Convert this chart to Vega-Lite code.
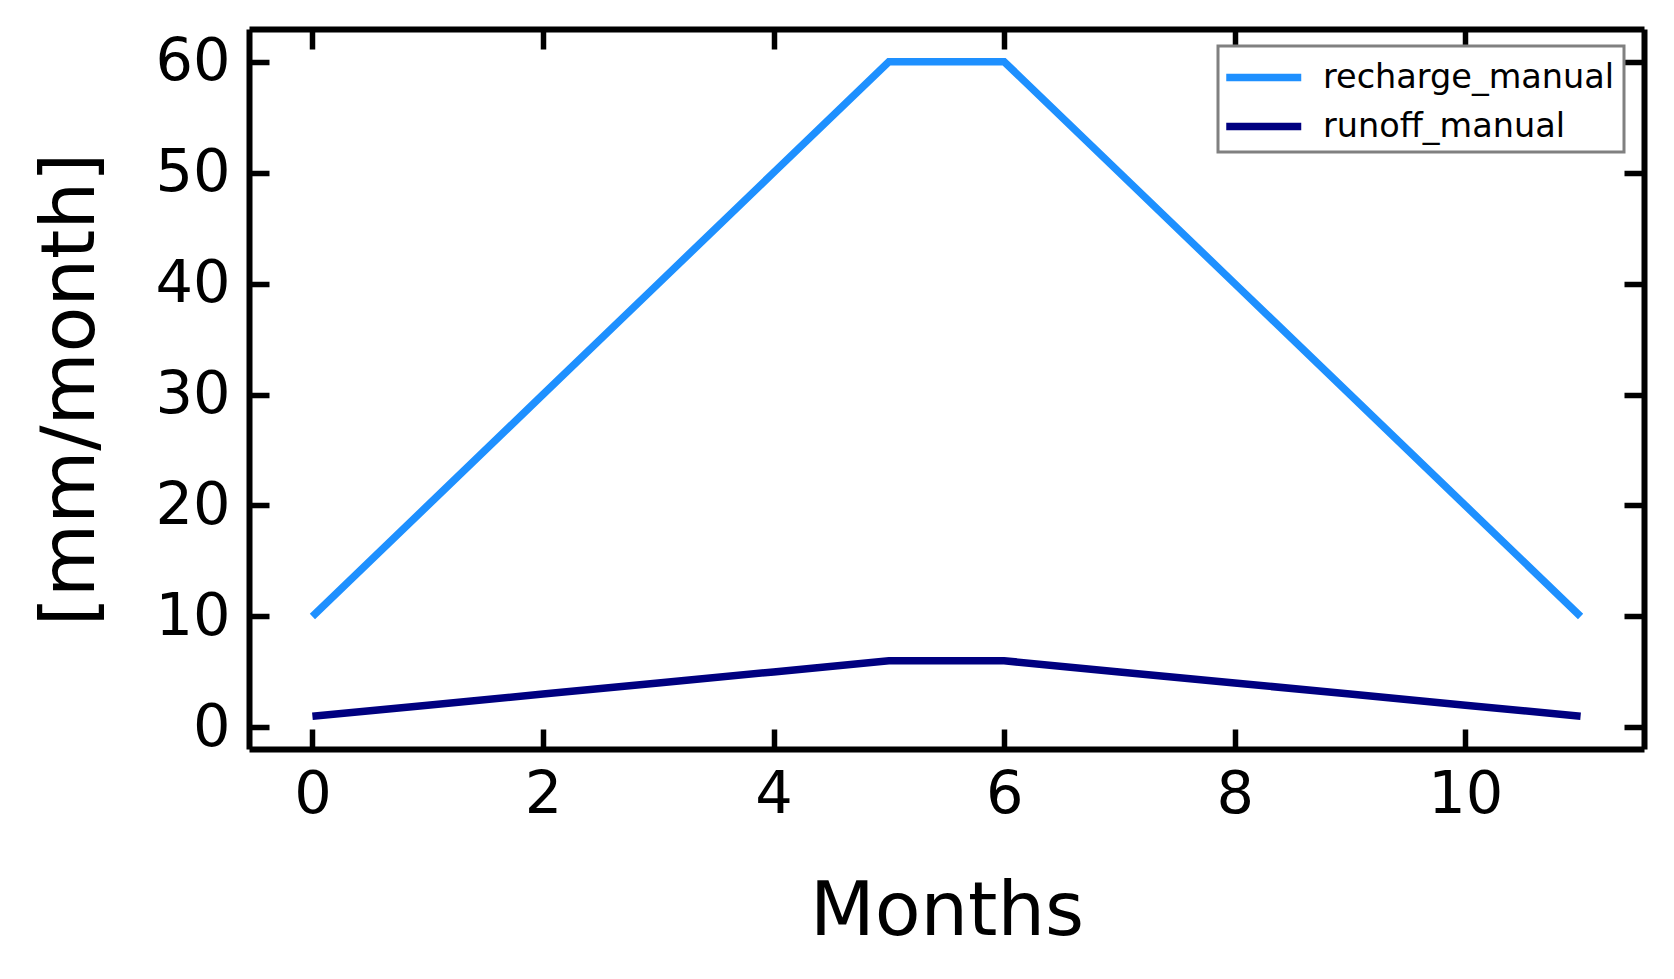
{
  "$schema": "https://vega.github.io/schema/vega-lite/v6.json",
  "width": 1395,
  "height": 720,
  "autosize": {"type": "none"},
  "padding": {"left": 249, "top": 29, "right": 30, "bottom": 230},
  "background": "white",
  "config": {
    "view": {"stroke": null},
    "font": "DejaVu Sans",
    "axis": {
      "domainColor": "black",
      "domainWidth": 6,
      "tickColor": "black",
      "tickWidth": 5.5,
      "tickSize": -20,
      "grid": false,
      "labelFont": "DejaVu Sans",
      "labelFontSize": 59,
      "labelColor": "black",
      "titleFont": "DejaVu Sans",
      "titleFontSize": 75,
      "titleFontWeight": "normal",
      "titleColor": "black"
    },
    "legend": {
      "orient": "none",
      "legendX": 969,
      "legendY": 17,
      "fillColor": "white",
      "strokeColor": "#808080",
      "strokeWidth": 3,
      "padding": 9,
      "labelFont": "DejaVu Sans",
      "labelFontSize": 33.5,
      "labelColor": "black",
      "labelLimit": 0,
      "symbolType": "M-1.24,0H2.76",
      "symbolSize": 1406,
      "symbolStrokeWidth": 7.5,
      "labelOffset": 51,
      "rowPadding": 10
    }
  },
  "data": {
    "values": [
      {"month": 0, "value": 10, "series": "recharge_manual"},
      {"month": 1, "value": 20, "series": "recharge_manual"},
      {"month": 2, "value": 30, "series": "recharge_manual"},
      {"month": 3, "value": 40, "series": "recharge_manual"},
      {"month": 4, "value": 50, "series": "recharge_manual"},
      {"month": 5, "value": 60, "series": "recharge_manual"},
      {"month": 6, "value": 60, "series": "recharge_manual"},
      {"month": 7, "value": 50, "series": "recharge_manual"},
      {"month": 8, "value": 40, "series": "recharge_manual"},
      {"month": 9, "value": 30, "series": "recharge_manual"},
      {"month": 10, "value": 20, "series": "recharge_manual"},
      {"month": 11, "value": 10, "series": "recharge_manual"},
      {"month": 0, "value": 1, "series": "runoff_manual"},
      {"month": 1, "value": 2, "series": "runoff_manual"},
      {"month": 2, "value": 3, "series": "runoff_manual"},
      {"month": 3, "value": 4, "series": "runoff_manual"},
      {"month": 4, "value": 5, "series": "runoff_manual"},
      {"month": 5, "value": 6, "series": "runoff_manual"},
      {"month": 6, "value": 6, "series": "runoff_manual"},
      {"month": 7, "value": 5, "series": "runoff_manual"},
      {"month": 8, "value": 4, "series": "runoff_manual"},
      {"month": 9, "value": 3, "series": "runoff_manual"},
      {"month": 10, "value": 2, "series": "runoff_manual"},
      {"month": 11, "value": 1, "series": "runoff_manual"}
    ]
  },
  "layer": [
    {
      "mark": {"type": "point", "opacity": 0},
      "encoding": {
        "x": {
          "field": "month", "type": "quantitative",
          "scale": {"domain": [-0.55, 11.55], "nice": false, "zero": false},
          "axis": {"orient": "top", "values": [0, 2, 4, 6, 8, 10], "labels": false, "title": null}
        },
        "y": {
          "field": "value", "type": "quantitative",
          "scale": {"domain": [-1.95, 62.95], "nice": false, "zero": false},
          "axis": {"orient": "right", "values": [0, 10, 20, 30, 40, 50, 60], "labels": false, "title": null}
        }
      }
    },
    {
      "mark": {"type": "line", "strokeWidth": 7.5, "strokeCap": "butt", "strokeJoin": "miter"},
      "encoding": {
        "x": {
          "field": "month", "type": "quantitative",
          "axis": {"orient": "bottom", "values": [0, 2, 4, 6, 8, 10], "title": "Months", "labelPadding": 36, "titleBaseline": "alphabetic", "titleY": 185}
        },
        "y": {
          "field": "value", "type": "quantitative",
          "axis": {"orient": "left", "values": [0, 10, 20, 30, 40, 50, 60], "title": "[mm/month]", "labelPadding": 39, "titleBaseline": "alphabetic", "titleX": -156, "titleY": 360, "titleAngle": -90, "titleAlign": "center"}
        },
        "color": {
          "field": "series", "type": "nominal",
          "scale": {"domain": ["recharge_manual", "runoff_manual"], "range": ["#1E90FF", "#000080"]},
          "legend": {"title": null}
        }
      }
    }
  ],
  "resolve": {"axis": {"x": "independent", "y": "independent"}}
}
